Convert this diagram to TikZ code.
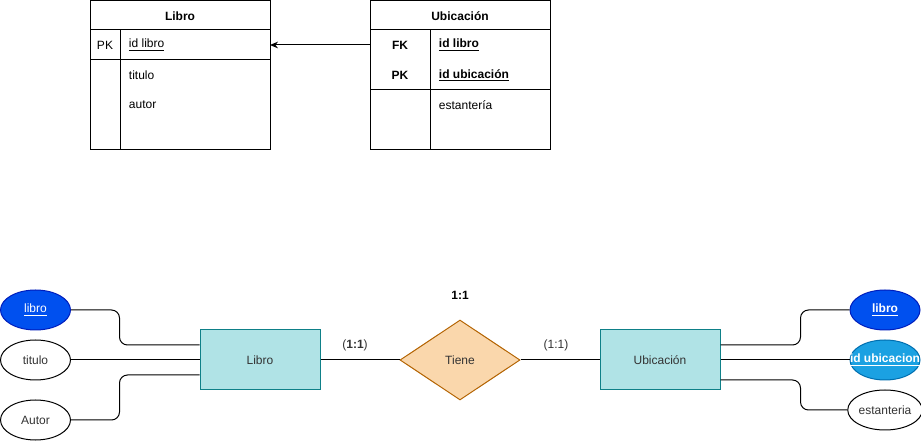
\documentclass[tikz,border=0pt]{standalone}
\usepackage{fontspec}
\setmainfont{Liberation Sans}
\usepackage{tikz}
\usetikzlibrary{calc, shapes, arrows.meta,positioning}
\usepackage{xcolor,color}
\definecolor{entfill}{HTML}{B0E3E6}
\definecolor{entline}{HTML}{0E8088}
\definecolor{relfill}{HTML}{FAD7AC}
\definecolor{relline}{HTML}{B46504}
\definecolor{keyfill}{HTML}{0050EF}
\definecolor{keyline}{HTML}{001DBC}
\definecolor{idfill}{HTML}{1BA1E2}
\definecolor{idline}{HTML}{006EAF}
\definecolor{txt}{HTML}{333333}
\newcommand{\letra}{\fontsize{9}{11}\selectfont}
\tikzset{
	every node/.style={font=\letra},
	cabecera/.style={font=\letra\bfseries},
	entidad/.style={draw=entline,fill=entfill,line width=0.75pt,minimum width=90pt,minimum height=45pt,text=txt},
	relacion/.style={diamond,draw=relline,fill=relfill,line width=0.75pt,minimum width=90pt,minimum height=60pt,inner sep=0pt,text=txt},
	atributo/.style={ellipse,draw,line width=0.75pt,minimum width=52.5pt,minimum height=30pt,inner sep=0pt,text=txt},
	clave/.style={atributo,draw=keyline,fill=keyfill,text=white},
	conn/.style={line width=0.75pt,rounded corners=6pt}
}

\begin{document}
\begin{tikzpicture}[x=0.75pt,y=-0.75pt,line width=0.75pt]
				\useasboundingbox (0,0) rectangle (921,441);
				% tabla Libro
				\draw (90,1) rectangle (270,150);
				\draw (90,30) -- (270,30);
				\draw (90,60) -- (270,60);
				\draw (120,30) -- (120,150);
				\node [cabecera] (tLibro) at (180,16) {Libro};
				\node (pkLibro) at (105,45) {PK};
				\node [right] (idLibro) at (124,45) {\underline{id libro}};
				\node [right] (titulo) at (124,75) {titulo};
				\node [right] (autor) at (124,105) {autor};
				% tabla Ubicación
				\draw (370,1) rectangle (550,150);
				\draw (370,30) -- (550,30);
				\draw (370,90) -- (550,90);
				\draw (430,30) -- (430,150);
				\node [cabecera] (tUbic) at (460,16) {Ubicación};
				\node [cabecera] (fkUbic) at (400,45) {FK};
				\node [cabecera] (pkUbic) at (400,75) {PK};
				\node [right,cabecera] (idLibroU) at (434,45) {\underline{id libro}};
				\node [right,cabecera] (idUbic) at (434,75) {\underline{id ubicación}};
				\node [right] (estanteria) at (434,105) {estantería};
				\coordinate (fkOrigen) at (370,45);
				\coordinate (pkDestino) at (270,45);
				\draw[-{Stealth[length=6pt,width=5pt]}] (fkOrigen) -- (pkDestino);
				
				% diagrama entidad-relación
				\node[clave] (aLibro) at (35.5,310) {\underline{libro}};
				\node[atributo] (aTitulo) at (35.5,360) {titulo};
				\node[atributo] (aAutor) at (35.5,420) {Autor};
				\node[entidad] (eLibro) at (260,360) {Libro};
				\node[relacion] (rTiene) at (460,360) {Tiene};
				\node[entidad] (eUbic) at (660,360) {Ubicación};
				\node[clave] (aLibroU) at (885,310) {\textbf{\underline{libro}}};
				\node[clave,draw=idline,fill=idfill] (aIdUbic) at (885,360) {\makebox[0pt]{\textbf{\underline{id ubicacion}}}};
				\node[atributo] (aEstant) at (885,410) {estanteria};
				\node[cabecera] (card) at (460,295) {1:1};
				\node[text=txt] (cardL) at (355,345) {(\textbf{1:1})};
				\node[text=txt] (cardR) at (556,345) {(1:1)};
				
				\draw[conn] (aLibro.east) -| ($(eLibro.west)+(-80,-15)$) -- ($(eLibro.west)+(0,-15)$);
				\draw[conn] (aTitulo.east) -- (eLibro.west);
				\draw[conn] (aAutor.east) -| ($(eLibro.west)+(-80,15)$) -- ($(eLibro.west)+(0,15)$);
				\draw[conn] (eLibro.east) -- (rTiene.west);
				\draw[conn] (rTiene.east) -- (eUbic.west);
				\draw[conn] ($(eUbic.east)+(0,-15)$) -- ($(eUbic.east)+(80,-15)$) |- (aLibroU.west);
				\draw[conn] (eUbic.east) -- (aIdUbic.west);
				\draw[conn] ($(eUbic.east)+(0,20)$) -- ($(eUbic.east)+(80,20)$) |- (aEstant.west);
			\end{tikzpicture}
\end{document}
